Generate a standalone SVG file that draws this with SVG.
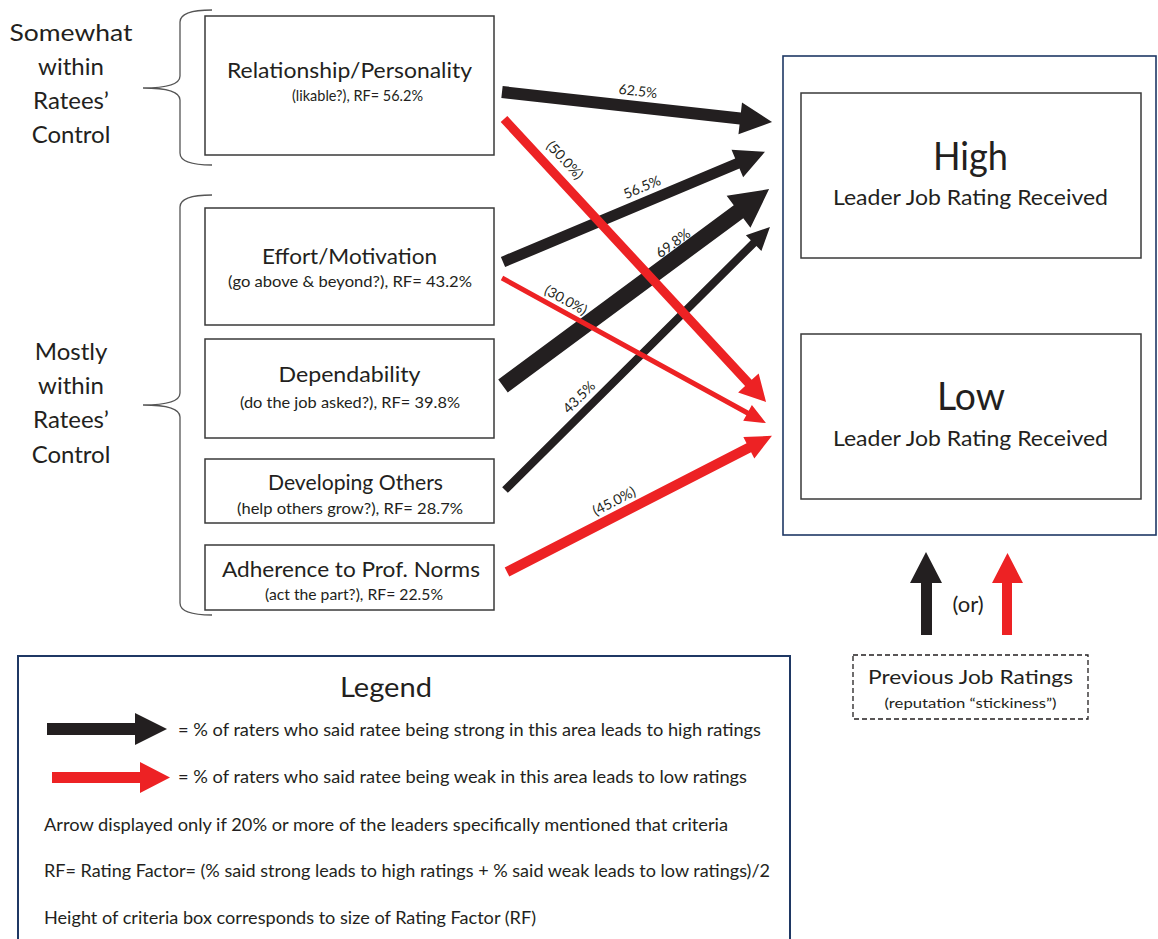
<svg xmlns="http://www.w3.org/2000/svg" width="1158" height="939" viewBox="0 0 1158 939">
<style>
text{font-family:Lato,"Liberation Sans",sans-serif;fill:#231f20}
.box{fill:#fff;stroke:#3a3a3a;stroke-width:1.5}
.navy{fill:none;stroke:#1f3864;stroke-width:1.6}
.t{font-size:21px;text-anchor:middle}
.s{font-size:15px;text-anchor:middle}
.grp{font-size:24px;text-anchor:middle}
.lbl{font-size:14px;text-anchor:middle}
.leg{font-size:17px}
.brace{fill:none;stroke:#555;stroke-width:1.3}
.blk{fill:#231f20}
.red{fill:#ed2224}
</style>
<rect width="1158" height="939" fill="#fff"/>

<g id="group-labels">
<text class="grp" x="71" y="41" textLength="123" lengthAdjust="spacingAndGlyphs">Somewhat</text>
<text class="grp" x="71" y="75">within</text>
<text class="grp" x="71" y="109">Ratees’</text>
<text class="grp" x="71" y="143">Control</text>
<text class="grp" x="71" y="360">Mostly</text>
<text class="grp" x="71" y="394">within</text>
<text class="grp" x="71" y="428">Ratees’</text>
<text class="grp" x="71" y="463">Control</text>
<path class="brace" d="M212,10 Q180,10 180,22 L180,76 Q180,88 143,88 Q180,88 180,100 L180,153 Q180,165 212,165"/>
<path class="brace" d="M212,195 Q180,195 180,207 L180,393 Q180,405 143,405 Q180,405 180,417 L180,603 Q180,615 212,615"/>
</g>

<g id="relationship">
<rect class="box" x="205" y="16" width="289" height="139"/>
<text class="t" x="349.5" y="78" textLength="245" lengthAdjust="spacingAndGlyphs">Relationship/Personality</text>
<text class="s" x="357.5" y="101" textLength="131" lengthAdjust="spacingAndGlyphs">(likable?), RF= 56.2%</text>
</g>
<g id="effort">
<rect class="box" x="205" y="208" width="289" height="117"/>
<text class="t" x="349.5" y="264" textLength="175" lengthAdjust="spacingAndGlyphs">Effort/Motivation</text>
<text class="s" x="350" y="287" textLength="244" lengthAdjust="spacingAndGlyphs">(go above &amp; beyond?), RF= 43.2%</text>
</g>
<g id="dependability">
<rect class="box" x="205" y="339" width="289" height="99"/>
<text class="t" x="349.5" y="382" textLength="142" lengthAdjust="spacingAndGlyphs">Dependability</text>
<text class="s" x="350" y="408" textLength="220" lengthAdjust="spacingAndGlyphs">(do the job asked?), RF= 39.8%</text>
</g>
<g id="developing">
<rect class="box" x="205" y="459" width="289" height="64"/>
<text class="t" x="355.5" y="490" textLength="175" lengthAdjust="spacingAndGlyphs">Developing Others</text>
<text class="s" x="350" y="514" textLength="226" lengthAdjust="spacingAndGlyphs">(help others grow?), RF= 28.7%</text>
</g>
<g id="adherence">
<rect class="box" x="205" y="545" width="289" height="65"/>
<text class="t" x="351" y="577" textLength="258" lengthAdjust="spacingAndGlyphs">Adherence to Prof. Norms</text>
<text class="s" x="354" y="600" textLength="178" lengthAdjust="spacingAndGlyphs">(act the part?), RF= 22.5%</text>
</g>

<g id="rating-container">
<rect class="navy" x="783" y="56" width="373" height="479"/>
</g>
<g id="high">
<rect class="box" x="801" y="93" width="340" height="165"/>
<text x="970.5" y="170" font-size="39" text-anchor="middle" textLength="75" lengthAdjust="spacingAndGlyphs">High</text>
<text x="970.5" y="205" font-size="21" text-anchor="middle" textLength="275" lengthAdjust="spacingAndGlyphs">Leader Job Rating Received</text>
</g>
<g id="low">
<rect class="box" x="801" y="334" width="340" height="165"/>
<text x="971" y="410" font-size="39" text-anchor="middle" textLength="68" lengthAdjust="spacingAndGlyphs">Low</text>
<text x="970.5" y="446" font-size="21" text-anchor="middle" textLength="275" lengthAdjust="spacingAndGlyphs">Leader Job Rating Received</text>
</g>

<g id="previous">
<rect x="853" y="655" width="235" height="64" fill="#fff" stroke="#231f20" stroke-width="1.3" stroke-dasharray="5,3"/>
<text x="970.5" y="684" font-size="20" text-anchor="middle" textLength="205" lengthAdjust="spacingAndGlyphs">Previous Job Ratings</text>
<text x="970.5" y="708" font-size="14" text-anchor="middle" textLength="172" lengthAdjust="spacingAndGlyphs">(reputation “stickiness”)</text>
</g>

<g id="connectors">
<polygon class="blk" transform="translate(502,92) rotate(6.34)" points="0,-6 239.7,-6 239.7,-16 271.7,0 239.7,16 239.7,6 0,6"/>
<polygon class="blk" transform="translate(503,262) rotate(-22.8)" points="0,-5.5 254.2,-5.5 254.2,-15 284.2,0 254.2,15 254.2,5.5 0,5.5"/>
<polygon class="blk" transform="translate(503,386) rotate(-36.5)" points="0,-8 293,-8 293,-20 331,0 293,20 293,8 0,8"/>
<polygon class="blk" transform="translate(505,490) rotate(-44.8)" points="0,-4 350.4,-4 350.4,-11 373.4,0 350.4,11 350.4,4 0,4"/>
<polygon class="red" transform="translate(504,119) rotate(47.2)" points="0,-4.5 359.7,-4.5 359.7,-14 385.7,0 359.7,14 359.7,4.5 0,4.5"/>
<polygon class="red" transform="translate(502,278) rotate(28.8)" points="0,-2.5 280.2,-2.5 280.2,-9 301.2,0 280.2,9 280.2,2.5 0,2.5"/>
<polygon class="red" transform="translate(507,572) rotate(-27.2)" points="0,-5 271.9,-5 271.9,-12 297.9,0 271.9,12 271.9,5 0,5"/>
<polygon class="blk" points="921,635 921,583 910,583 926,552 942,583 932,583 932,635"/>
<polygon class="red" points="1002,635 1002,583 992,583 1007.5,553 1023,583 1012,583 1012,635"/>
<text class="lbl" transform="translate(638,91) rotate(6.34)" y="5">62.5%</text>
<text class="lbl" transform="translate(565,160) rotate(47.2)" y="5">(50.0%)</text>
<text class="lbl" transform="translate(642,187) rotate(-22.8)" y="5">56.5%</text>
<text class="lbl" transform="translate(673,243) rotate(-36.5)" y="5">69.8%</text>
<text class="lbl" transform="translate(566,300) rotate(28.8)" y="5">(30.0%)</text>
<text class="lbl" transform="translate(579,397) rotate(-44.8)" y="5">43.5%</text>
<text class="lbl" transform="translate(614,501) rotate(-27.2)" y="5">(45.0%)</text>
<text x="968" y="612" font-size="22" text-anchor="middle">(or)</text>
</g>

<g id="legend">
<rect x="18" y="656" width="772" height="300" fill="none" stroke="#1f3864" stroke-width="2"/>
<text x="386" y="697" font-size="27" text-anchor="middle" textLength="92" lengthAdjust="spacingAndGlyphs">Legend</text>
<polygon class="blk" points="47,723 135,723 135,713 167,729 135,745 135,735 47,735"/>
<text class="leg" x="178" y="736" textLength="583" lengthAdjust="spacingAndGlyphs">= % of raters who said ratee being strong in this area leads to high ratings</text>
<polygon class="red" points="52,772 140,772 140,762 170,777.5 140,793 140,783 52,783"/>
<text class="leg" x="178" y="783" textLength="569" lengthAdjust="spacingAndGlyphs">= % of raters who said ratee being weak in this area leads to low ratings</text>
<text class="leg" x="44" y="831" textLength="684" lengthAdjust="spacingAndGlyphs">Arrow displayed only if 20% or more of the leaders specifically mentioned that criteria</text>
<text class="leg" x="44" y="877" textLength="726" lengthAdjust="spacingAndGlyphs">RF= Rating Factor= (% said strong leads to high ratings + % said weak leads to low ratings)/2</text>
<text class="leg" x="44" y="924" textLength="492" lengthAdjust="spacingAndGlyphs">Height of criteria box corresponds to size of Rating Factor (RF)</text>
</g>
</svg>
